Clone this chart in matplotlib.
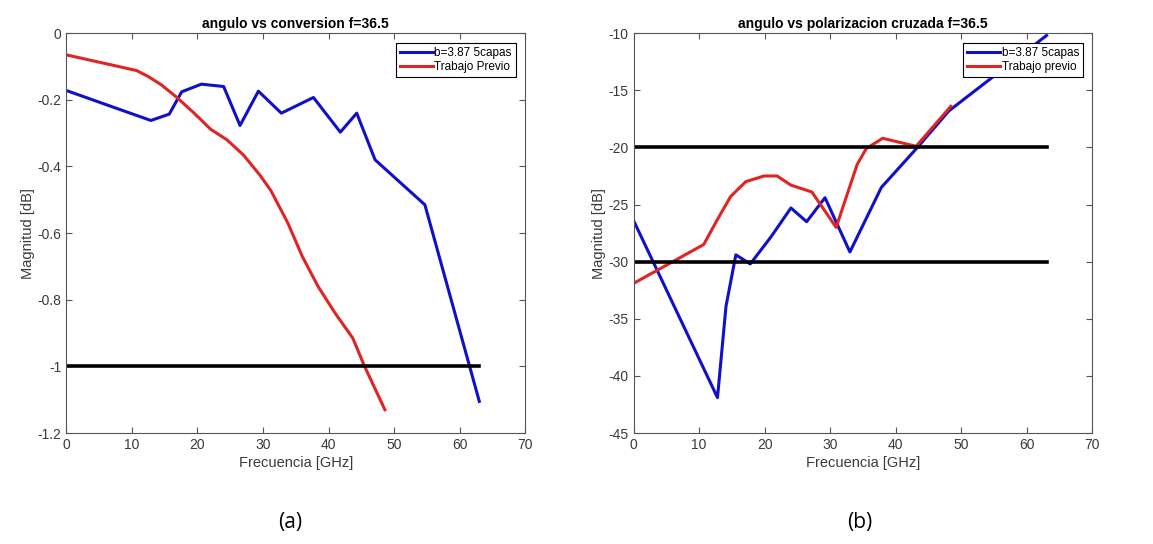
import matplotlib
matplotlib.use("Agg")
import matplotlib.pyplot as plt

plt.rcParams['font.family'] = ['Liberation Sans', 'DejaVu Sans']
plt.rcParams['axes.unicode_minus'] = False

# ---- Data: (a) angulo vs conversion ----
a_blue_x = [0, 12.9, 15.7, 17.6, 20.6, 24.0, 26.5, 29.3, 32.8, 37.7, 41.8, 44.3, 47.1, 54.7, 63.0]
a_blue_y = [-0.172, -0.262, -0.243, -0.176, -0.153, -0.160, -0.277, -0.174, -0.240, -0.193, -0.297, -0.240, -0.380, -0.515, -1.105]
a_red_x = [0, 10.7, 12.5, 14.5, 17.0, 19.5, 22.0, 24.5, 27.0, 29.5, 31.2, 33.8, 36.0, 38.4, 41.0, 43.7, 45.5, 48.6]
a_red_y = [-0.065, -0.112, -0.130, -0.155, -0.195, -0.240, -0.288, -0.320, -0.365, -0.425, -0.472, -0.570, -0.670, -0.760, -0.840, -0.915, -1.000, -1.130]
a_ref_x = [0, 63]
a_ref_y = [-1, -1]

# ---- Data: (b) angulo vs polarizacion cruzada ----
b_blue_x = [0, 12.8, 14.1, 15.6, 17.8, 21.0, 24.0, 26.4, 29.2, 33.0, 37.8, 43.3, 48.1, 63.0]
b_blue_y = [-26.4, -41.9, -33.9, -29.4, -30.2, -27.8, -25.3, -26.5, -24.4, -29.15, -23.5, -20.0, -16.8, -10.2]
b_red_x = [0, 10.7, 12.8, 14.8, 17.1, 19.9, 21.9, 24.0, 27.2, 30.9, 34.1, 35.5, 38.0, 43.1, 48.4]
b_red_y = [-31.9, -28.5, -26.3, -24.3, -23.0, -22.5, -22.5, -23.3, -23.9, -27.0, -21.5, -20.1, -19.2, -19.9, -16.4]
b_ref_x = [0, 63]
b_ref1_y = [-20, -20]
b_ref2_y = [-30, -30]

xticks = [0, 10, 20, 30, 40, 50, 60, 70]
a_yticks = [0, -0.2, -0.4, -0.6, -0.8, -1, -1.2]
a_yticklabels = ['0', '-0.2', '-0.4', '-0.6', '-0.8', '-1', '-1.2']
b_yticks = [-10, -15, -20, -25, -30, -35, -40, -45]

BLUE = '#1010c8'
RED = '#e02424'
GRAY = '#3a3a3a'

fig = plt.figure(figsize=(11.53, 5.44), dpi=100)
axA = fig.add_axes([0.0575, 0.204, 0.398, 0.735])
axB = fig.add_axes([0.5495, 0.204, 0.398, 0.735])


def style(ax):
    for s in ax.spines.values():
        s.set_color('#555555')
        s.set_linewidth(0.8)
    ax.tick_params(direction='in', top=True, right=True, length=4, width=0.8,
                   colors='#555555', labelcolor=GRAY, labelsize=10)
    ax.set_xlim(0, 70)
    ax.set_xticks(xticks)
    ax.set_xlabel('Frecuencia [GHz]', fontsize=10.5, color=GRAY, labelpad=3)
    ax.set_ylabel('Magnitud [dB]', fontsize=10.5, color=GRAY, labelpad=2)


def legend(ax):
    leg = ax.legend(loc='upper right', fontsize=8.5, fancybox=False, edgecolor='black',
                    framealpha=1, handlelength=2.8, handletextpad=0.1, borderpad=0.35,
                    labelspacing=0.2, borderaxespad=0.8)
    leg.get_frame().set_linewidth(0.8)


axA.plot(a_blue_x, a_blue_y, color=BLUE, lw=2.2, label='b=3.87 5capas')
axA.plot(a_red_x, a_red_y, color=RED, lw=2.2, label='Trabajo Previo')
axA.plot(a_ref_x, a_ref_y, color='black', lw=2.6)
style(axA)
axA.set_ylim(-1.2, 0)
axA.set_yticks(a_yticks)
axA.set_yticklabels(a_yticklabels)
axA.set_title('angulo vs conversion f=36.5', fontsize=10, fontweight='bold', pad=4)
legend(axA)

axB.plot(b_blue_x, b_blue_y, color=BLUE, lw=2.2, label='b=3.87 5capas')
axB.plot(b_red_x, b_red_y, color=RED, lw=2.2, label='Trabajo previo')
axB.plot(b_ref_x, b_ref1_y, color='black', lw=2.6)
axB.plot(b_ref_x, b_ref2_y, color='black', lw=2.6)
style(axB)
axB.set_ylim(-45, -10)
axB.set_yticks(b_yticks)
axB.set_title('angulo vs polarizacion cruzada f=36.5', fontsize=10, fontweight='bold', pad=4)
legend(axB)

fig.text(0.2515, 0.04, '(a)', fontsize=15, ha='center', va='center', family=['Open Sans', 'DejaVu Sans'])
fig.text(0.746, 0.04, '(b)', fontsize=15, ha='center', va='center', family=['Open Sans', 'DejaVu Sans'])

fig.savefig('out.png', dpi=100, facecolor='white')
